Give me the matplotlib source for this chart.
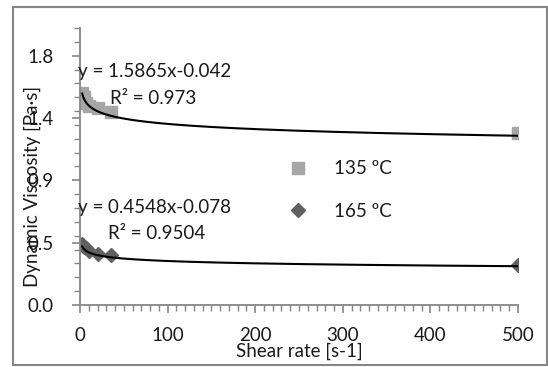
import numpy as np
import matplotlib
matplotlib.use("Agg")
import matplotlib.pyplot as plt
from matplotlib.patches import Rectangle

# Data
shear_rate = [2.5, 4, 7, 10, 20, 35, 500]
visc_135 = [1.53, 1.50, 1.46, 1.44, 1.42, 1.39, 1.24]
visc_165 = [0.44, 0.42, 0.41, 0.39, 0.37, 0.36, 0.29]
fit_135 = (1.5865, -0.042)
fit_165 = (0.4548, -0.078)
eq_135 = ["y = 1.5865x-0.042", "R² = 0.973"]
eq_165 = ["y = 0.4548x-0.078", "R² = 0.9504"]
series_labels = ["135 ºC", "165 ºC"]
x_ticks = [0, 100, 200, 300, 400, 500]
y_ticks = [0.0, 0.45, 0.9, 1.35, 1.8]
y_ticklabels = ["0.0", "0.5", "0.9", "1.4", "1.8"]

plt.rcParams['font.family'] = ['Lato', 'DejaVu Sans']
W, H = 548, 367
FS = 13.5
TC = '#1a1a1a'
fig = plt.figure(figsize=(W / 100, H / 100), dpi=100)
ax = fig.add_axes([80 / W, 1 - 305 / H, (518 - 80) / W, (305 - 28) / H])

gray_axis = '#868686'
c135 = '#A6A6A6'
c165 = '#606060'

ax.plot(shear_rate, visc_135, linestyle='none', marker='s', markersize=8.5,
        color=c135, label=series_labels[0], zorder=2)
ax.plot(shear_rate, visc_165, linestyle='none', marker='D', markersize=7.5,
        color=c165, label=series_labels[1], zorder=2)

xf = np.linspace(shear_rate[0], shear_rate[-1], 2000)
ax.plot(xf, fit_135[0] * xf ** fit_135[1], color='black', lw=1.5, zorder=3)
ax.plot(xf, fit_165[0] * xf ** fit_165[1], color='black', lw=1.5, zorder=3)

ax.set_xlim(0, 500)
ax.set_ylim(0, 2.0)
ax.set_xticks(x_ticks)
ax.set_xticks(np.arange(0, 501, 10), minor=True)
ax.set_yticks(y_ticks)
ax.set_yticklabels(y_ticklabels)
ax.set_yticks(np.arange(0, 2.01, 0.1), minor=True)

for s in ['top', 'right']:
    ax.spines[s].set_visible(False)
for s in ['left', 'bottom']:
    ax.spines[s].set_color(gray_axis)
    ax.spines[s].set_linewidth(1.3)
ax.tick_params(which='major', direction='out', length=6, width=1.2, color=gray_axis,
               labelsize=FS, labelcolor=TC, pad=13)
ax.tick_params(which='minor', direction='out', length=4, width=1.0, color=gray_axis)
ax.tick_params(axis='x', which='major', pad=10)

ax.set_xlabel("Shear rate [s-1]", fontsize=FS, color=TC, va='center')
ax.xaxis.set_label_coords(0.5, -(351 - 305) / 277)
ax.set_ylabel("Dynamic Viscosity [Pa·s]", fontsize=FS, color=TC)
ax.yaxis.set_label_coords((41 - 80) / 438, (305 - 186) / 277)

# Equation annotations (figure pixel positions)
def ftext(x, y, s, **kw):
    fig.text(x / W, 1 - y / H, s, fontsize=FS, color=TC, va='center', **kw)

ftext(78, 72, eq_135[0])
ftext(110, 98, eq_135[1])
ftext(78, 207, eq_165[0])
ftext(108, 233, eq_165[1])

leg = ax.legend(loc='upper left', bbox_to_anchor=((280 - 80) / 438, (305 - 151) / 277),
                frameon=False, fontsize=FS, handletextpad=1.5, labelspacing=1.35,
                handlelength=0.9, borderpad=0)
for t in leg.get_texts():
    t.set_color(TC)

fig.patches.append(Rectangle((12.5 / W, 1 - 365 / H), (547 - 12.5) / W, (365 - 6.5) / H,
                             transform=fig.transFigure, fill=False,
                             edgecolor=gray_axis, lw=1.5))

fig.savefig("out.png", dpi=100)
